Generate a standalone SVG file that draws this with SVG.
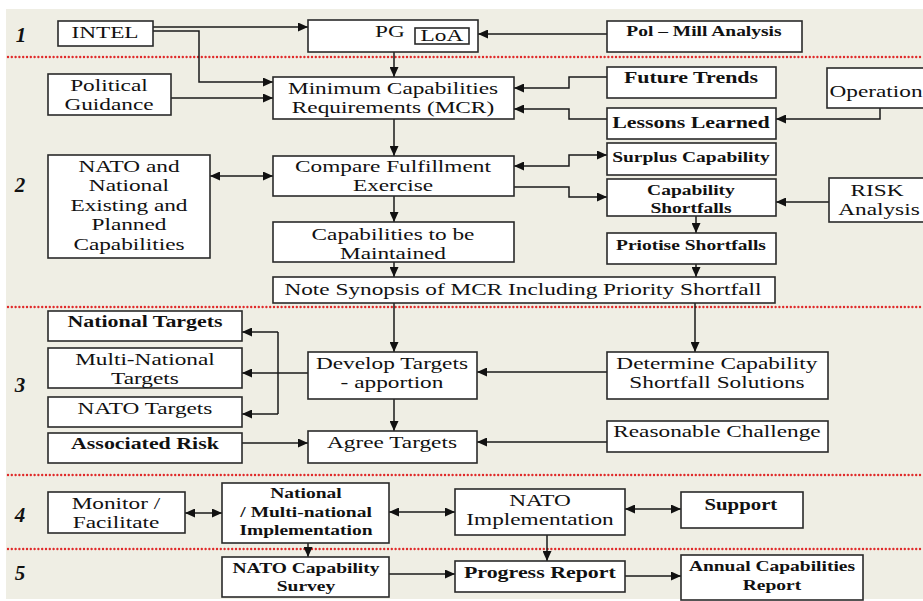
<svg xmlns="http://www.w3.org/2000/svg" width="923" height="601" viewBox="0 0 923 601">
<style>
.bx{fill:#fff;stroke:#2a2a2a;stroke-width:1.6}
.t{font-family:"Liberation Serif","Times New Roman",serif;font-size:17px;fill:#111;text-anchor:middle;transform-box:fill-box;transform-origin:center;transform:scaleX(1.37)}
.b{font-weight:bold}
.s{font-size:15px;transform:scaleX(1.3)}
.num{font-family:"Liberation Serif","Times New Roman",serif;font-size:21px;font-weight:bold;font-style:italic;fill:#111;text-anchor:middle}
.sep{stroke:#e02a2a;stroke-width:2.4;stroke-linecap:round;stroke-dasharray:0 3.8;fill:none}
.c{fill:none;stroke:#1a1a1a;stroke-width:1.5;marker-end:url(#ah)}
.c2{marker-start:url(#ah)}
.l{fill:none;stroke:#1a1a1a;stroke-width:1.5}
</style>
<defs>
<marker id="ah" markerUnits="userSpaceOnUse" markerWidth="11" markerHeight="9" refX="10" refY="4.5" orient="auto-start-reverse"><path d="M0,0 L10,4.5 L0,9 z" fill="#111"/></marker>
</defs>
<rect x="0" y="0" width="923" height="601" fill="#fff"/>
<rect x="6" y="9" width="917" height="590" fill="#efeee4"/>
<g id="separators">
<path class="sep" d="M8,57 H923"/>
<path class="sep" d="M8,307 H923"/>
<path class="sep" d="M8,475 H923"/>
<path class="sep" d="M8,549 H923"/>
</g>
<g id="section-numbers">
<text class="num" x="21" y="42">1</text>
<text class="num" x="20" y="192">2</text>
<text class="num" x="20" y="392">3</text>
<text class="num" x="20" y="522">4</text>
<text class="num" x="20" y="580">5</text>
</g>
<g id="connectors">
<path class="c" d="M153,27 H308"/>
<path class="c" d="M153,31 H199 V82 H273"/>
<path class="c" d="M607,34 H478"/>
<path class="c" d="M394,52 V77"/>
<path class="c" d="M171,98 H273"/>
<path class="c" d="M607,77 H569 V88 H514"/>
<path class="c" d="M607,119 H569 V109 H514"/>
<path class="c" d="M880,108 V119 H776"/>
<path class="c" d="M394,119 V156"/>
<path class="c c2" d="M210,176 H273"/>
<path class="c c2" d="M514,166 H569 V155 H607"/>
<path class="c" d="M514,187 H569 V197 H607"/>
<path class="c" d="M829,202 H776"/>
<path class="c" d="M394,196 V222"/>
<path class="c" d="M696,216 V233"/>
<path class="c" d="M394,262 V277"/>
<path class="c" d="M696,264 V277"/>
<path class="c" d="M394,303 V352"/>
<path class="c" d="M695,303 V352"/>
<path class="c" d="M607,372 H477"/>
<path class="c" d="M308,373 H242"/>
<path class="l" d="M278,332 V414"/>
<path class="c" d="M278,332 H242"/>
<path class="c" d="M278,414 H242"/>
<path class="c" d="M394,399 V431"/>
<path class="c" d="M242,443 H308"/>
<path class="c" d="M607,442 H477"/>
<path class="c c2" d="M185,513 H222"/>
<path class="c c2" d="M389,512 H455"/>
<path class="c c2" d="M625,509 H681"/>
<path class="c" d="M308,543 V557"/>
<path class="c" d="M547,535 V561"/>
<path class="c" d="M389,574 H455"/>
<path class="c" d="M625,576 H681"/>
</g>
<g id="intel"><rect class="bx" x="58" y="21" width="95" height="25"/><text class="t" x="105" y="38">INTEL</text></g>
<g id="pg"><rect class="bx" x="308" y="20" width="170" height="32"/><text class="t" x="390" y="37">PG</text>
<rect class="bx" x="415" y="28" width="54" height="16"/><text class="t" x="442" y="41">LoA</text></g>
<g id="pol-mill"><rect class="bx" x="607" y="21" width="195" height="31"/><text class="t b s" x="704" y="36">Pol – Mill Analysis</text></g>
<g id="political-guidance"><rect class="bx" x="48" y="74" width="123" height="41"/><text class="t" x="109" y="91">Political</text><text class="t" x="109" y="110">Guidance</text></g>
<g id="mcr"><rect class="bx" x="273" y="77" width="241" height="42"/><text class="t" x="393" y="94">Minimum Capabilities</text><text class="t" x="393" y="113">Requirements (MCR)</text></g>
<g id="future-trends"><rect class="bx" x="607" y="67" width="169" height="31"/><text class="t b" style="font-size:16px" x="691" y="83">Future Trends</text></g>
<g id="lessons-learned"><rect class="bx" x="607" y="108" width="169" height="31"/><text class="t b" style="font-size:16px" x="691" y="128">Lessons Learned</text></g>
<g id="operation"><rect class="bx" x="827" y="68" width="110" height="40"/><text class="t" x="876" y="97">Operation</text></g>
<g id="nato-national"><rect class="bx" x="48" y="155" width="162" height="103"/>
<text class="t" x="129" y="172">NATO and</text><text class="t" x="129" y="191.5">National</text><text class="t" x="129" y="211">Existing and</text><text class="t" x="129" y="230.5">Planned</text><text class="t" x="129" y="250">Capabilities</text></g>
<g id="compare"><rect class="bx" x="273" y="156" width="241" height="40"/><text class="t" x="393" y="172">Compare Fulfillment</text><text class="t" x="393" y="191">Exercise</text></g>
<g id="surplus"><rect class="bx" x="607" y="143" width="169" height="32"/><text class="t b s" x="691" y="162">Surplus Capability</text></g>
<g id="shortfalls"><rect class="bx" x="607" y="179" width="169" height="37"/><text class="t b s" x="691" y="195.5">Capability</text><text class="t b s" x="691" y="213">Shortfalls</text></g>
<g id="risk"><rect class="bx" x="829" y="178" width="110" height="44"/><text class="t" x="877" y="196">RISK</text><text class="t" x="879" y="215">Analysis</text></g>
<g id="maintained"><rect class="bx" x="273" y="222" width="241" height="40"/><text class="t" x="393" y="240">Capabilities to be</text><text class="t" x="393" y="259">Maintained</text></g>
<g id="priotise"><rect class="bx" x="607" y="233" width="169" height="31"/><text class="t b s" x="691" y="250">Priotise Shortfalls</text></g>
<g id="synopsis"><rect class="bx" x="273" y="277" width="502" height="26"/><text class="t" x="523" y="295">Note Synopsis of MCR Including Priority Shortfall</text></g>
<g id="national-targets"><rect class="bx" x="48" y="311" width="194" height="30"/><text class="t b" style="font-size:16px" x="145" y="327">National Targets</text></g>
<g id="multinational-targets"><rect class="bx" x="48" y="348" width="194" height="40"/><text class="t" x="145" y="365">Multi-National</text><text class="t" x="145" y="384">Targets</text></g>
<g id="nato-targets"><rect class="bx" x="48" y="397" width="194" height="30"/><text class="t" x="145" y="414">NATO Targets</text></g>
<g id="associated-risk"><rect class="bx" x="48" y="433" width="194" height="30"/><text class="t b" style="font-size:16px" x="145" y="449">Associated Risk</text></g>
<g id="develop"><rect class="bx" x="308" y="352" width="169" height="47"/><text class="t" x="392" y="369">Develop Targets</text><text class="t" x="392" y="388">- apportion</text></g>
<g id="agree"><rect class="bx" x="308" y="431" width="169" height="32"/><text class="t" x="392" y="448">Agree Targets</text></g>
<g id="determine"><rect class="bx" x="607" y="352" width="221" height="47"/><text class="t" x="717" y="369">Determine Capability</text><text class="t" x="717" y="388">Shortfall Solutions</text></g>
<g id="reasonable"><rect class="bx" x="607" y="421" width="221" height="31"/><text class="t" x="717" y="437">Reasonable Challenge</text></g>
<g id="monitor"><rect class="bx" x="48" y="492" width="137" height="41"/><text class="t" x="116" y="509">Monitor /</text><text class="t" x="116" y="528">Facilitate</text></g>
<g id="national-impl"><rect class="bx" x="222" y="483" width="167" height="60"/><text class="t b s" x="306" y="498">National</text><text class="t b s" x="306" y="517">/ Multi-national</text><text class="t b s" x="306" y="535">Implementation</text></g>
<g id="nato-impl"><rect class="bx" x="455" y="489" width="170" height="46"/><text class="t" x="540" y="506">NATO</text><text class="t" x="540" y="525">Implementation</text></g>
<g id="support"><rect class="bx" x="681" y="492" width="122" height="36"/><text class="t b s" style="font-size:16px" x="741" y="510">Support</text></g>
<g id="survey"><rect class="bx" x="222" y="557" width="167" height="40"/><text class="t b s" x="306" y="573">NATO Capability</text><text class="t b s" x="306" y="591">Survey</text></g>
<g id="progress"><rect class="bx" x="455" y="561" width="170" height="31"/><text class="t b" style="font-size:16px" x="540" y="578">Progress Report</text></g>
<g id="annual"><rect class="bx" x="681" y="555" width="182" height="45"/><text class="t b s" x="772" y="571">Annual Capabilities</text><text class="t b s" x="772" y="590">Report</text></g>
</svg>
